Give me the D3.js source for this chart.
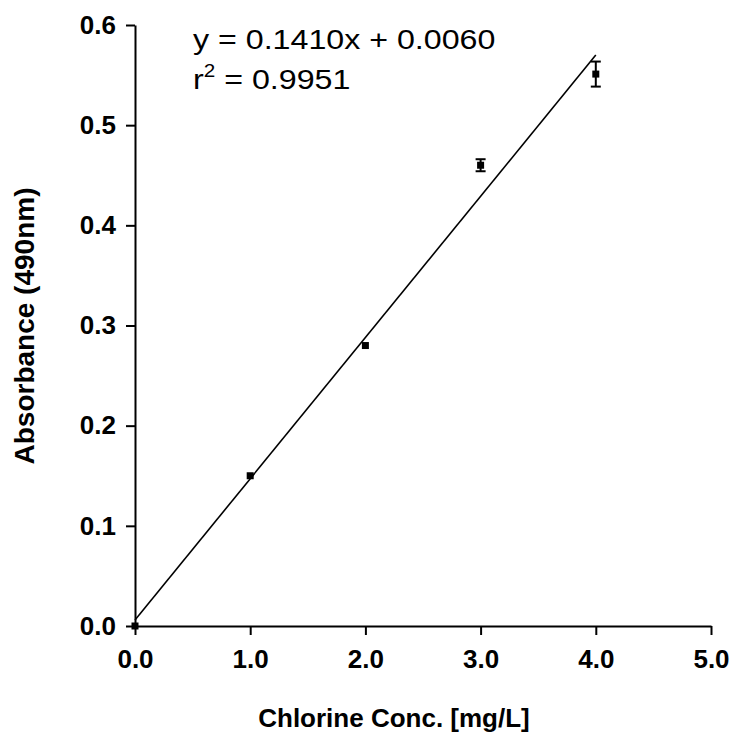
<!DOCTYPE html>
<html>
<head>
<meta charset="UTF-8">
<title>Chlorine standard curve</title>
<script src="https://d3js.org/d3.v7.min.js"></script>
<style>
  body { margin: 0; background: #fff; }
  svg text { font-family: "Liberation Sans", Arial, sans-serif; fill: #000; }
  .axis text { font-weight: bold; font-size: 26px; }
  .axis path, .axis line { stroke: #000; stroke-width: 2; }
</style>
</head>
<body>
<div id="chart"></div>
<script>
// measured data
const conc = [0, 1, 2, 3, 4];
const absorbance = [0.0, 0.15, 0.28, 0.46, 0.551];
const errs = [0, 0, 0, 0.006, 0.0125];

// fit
const slope = 0.1410;
const intercept = 0.0060;
const fitRange = [0, 4];

const xTicks = [0, 1, 2, 3, 4, 5];
const yTicks = [0, 0.1, 0.2, 0.3, 0.4, 0.5, 0.6];

const width = 732, height = 733;

const svg = d3.select('#chart').append('svg')
  .attr('width', width)
  .attr('height', height);

const x = d3.scaleLinear().domain([0, 5]).range([135, 711]);
const y = d3.scaleLinear().domain([0, 0.6]).range([626, 25]);

// axes
svg.append('g')
  .attr('class', 'axis')
  .attr('transform', 'translate(0,626)')
  .call(d3.axisBottom(x).tickValues(xTicks).tickFormat(d3.format('.1f')).tickSize(9).tickSizeOuter(0).tickPadding(15));

svg.append('g')
  .attr('class', 'axis')
  .attr('transform', 'translate(135,0)')
  .call(d3.axisLeft(y).tickValues(yTicks).tickFormat(d3.format('.1f')).tickSize(9).tickSizeOuter(0).tickPadding(10));

// fit line
svg.append('line')
  .attr('x1', x(fitRange[0])).attr('y1', y(slope * fitRange[0] + intercept))
  .attr('x2', x(fitRange[1])).attr('y2', y(slope * fitRange[1] + intercept))
  .attr('stroke', '#000').attr('stroke-width', 1.6);

const pts = conc.map((c, i) => ({ c, a: absorbance[i], e: errs[i] }));

// error bars
const eb = svg.append('g').selectAll('g').data(pts.filter(d => d.e > 0)).enter().append('g')
  .attr('stroke', '#000').attr('stroke-width', 2);
eb.append('line')
  .attr('x1', d => x(d.c)).attr('x2', d => x(d.c))
  .attr('y1', d => y(d.a - d.e)).attr('y2', d => y(d.a + d.e));
eb.append('line')
  .attr('x1', d => x(d.c) - 5).attr('x2', d => x(d.c) + 5)
  .attr('y1', d => y(d.a + d.e)).attr('y2', d => y(d.a + d.e));
eb.append('line')
  .attr('x1', d => x(d.c) - 5).attr('x2', d => x(d.c) + 5)
  .attr('y1', d => y(d.a - d.e)).attr('y2', d => y(d.a - d.e));

// markers
svg.append('g').selectAll('rect').data(pts).enter().append('rect')
  .attr('x', d => x(d.c) - 3.5).attr('y', d => y(d.a) - 3.5)
  .attr('width', 7).attr('height', 7)
  .attr('fill', '#000');

// equation (slightly wide, as in the original export)
svg.append('text')
  .attr('transform', 'translate(193,49) scale(1.15,1)')
  .style('font-size', '28px')
  .text('y = 0.1410x + 0.0060');

const r2 = svg.append('text')
  .attr('transform', 'translate(193,89) scale(1.15,1)')
  .style('font-size', '28px');
r2.append('tspan').text('r');
r2.append('tspan').attr('dy', -12).style('font-size', '18px').text('2');
r2.append('tspan').attr('dy', 12).text(' = 0.9951');

// axis titles
svg.append('text')
  .attr('x', 394).attr('y', 727)
  .attr('text-anchor', 'middle')
  .style('font-size', '26px').style('font-weight', 'bold')
  .text('Chlorine Conc. [mg/L]');

svg.append('text')
  .attr('transform', 'translate(34,326) rotate(-90)')
  .attr('text-anchor', 'middle')
  .style('font-size', '28px').style('font-weight', 'bold')
  .text('Absorbance (490nm)');
</script>
</body>
</html>
